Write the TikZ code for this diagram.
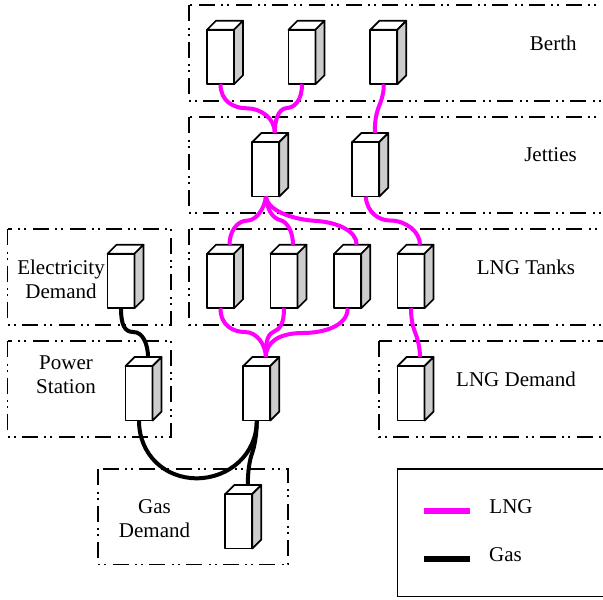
\documentclass[tikz,border=0pt]{standalone}
\usepackage{fontspec}
\setmainfont{Liberation Serif}
\usepackage{tikz}
\usetikzlibrary{calc}
\tikzset{
  frame/.style={line width=1.6pt,dash pattern=on 16pt off 6.5pt on 2pt off 4pt on 2pt off 6.2pt},
  unit/.style={draw,fill=white,line width=1.7pt,rectangle,inner sep=0pt,outer sep=0pt,minimum width=27pt,minimum height=54.5pt,line join=round},
  facetop/.style={draw,fill=white,line width=1.7pt,line join=round},
  faceside/.style={draw,fill=black!20,line width=1.7pt,line join=round},
  lng/.style={line width=4pt,draw={rgb,255:red,255;green,0;blue,255}},
  gas/.style={line width=4pt,draw=black},
  label/.style={font=\fontsize{21}{24}\selectfont,align=center,inner sep=0pt},
}
\newcommand{\unitbox}[3]{
  \node[unit] (#1) at (#2,#3) {};
  \path[facetop] (#1.north west) -- ++(9,-9) -- ++(27,0) -- (#1.north east) -- cycle;
  \path[faceside] (#1.north east) -- ++(9,-9) -- ++(0,54.5) -- (#1.south east) -- cycle;
  \coordinate (#1in) at ($(#1.north)+(9,-9)$);
}
\begin{document}
\begin{tikzpicture}[x=1pt,y=-1pt]
\useasboundingbox (0,0) rectangle (603,600);
\clip (0,0) rectangle (603,600);
\draw[frame] (189,5) rectangle (620,100.7);
\draw[frame] (189,117) rectangle (620,212.7);
\draw[frame] (189,229) rectangle (620,325);
\draw[frame] (379,341) rectangle (620,437);
\draw[frame] (7.5,229) rectangle (171,324.7);
\draw[frame] (7.5,341) rectangle (171,436.7);
\draw[frame] (98,469) rectangle (288,564.5);
\draw[line width=1.6pt] (397.5,468.7) rectangle (620,596.3);

\foreach \name/\x/\y in {b1/220.5/57,b2/302/57,b3/383.8/57,
    j1/265.8/169.3,j2/365.8/169.3,
    t1/220.5/281,t2/284/281,t3/347.7/281,t4/411/281,
    m/256.8/393.3,ld/411/393.3,e/121/281,p/139/393.3,g/238.8/521.3}{
  \unitbox{\name}{\x}{\y}
}

\node[label] (berth) at (553.3,43) {Berth};
\node[label] (jetties) at (550.5,155) {Jetties};
\node[label] (tanks) at (526,267) {LNG Tanks};
\node[label] (lngdem) at (516,379) {LNG Demand};
\node[label] (elec) at (61,279) {Electricity\\Demand};
\node[label] (power) at (66,375) {Power\\Station};
\node[label] (gasdem) at (154.5,519) {Gas\\Demand};
\node[label] (lnglab) at (511,507) {LNG};
\node[label] (gaslab) at (505.5,555) {Gas};

\draw[lng] (b1.south) .. controls +(0,17) and +(-13,0) .. (246.7,108.3) .. controls +(14,0) and +(0,-15) .. (j1in);
\draw[lng] (b2.south) .. controls +(0,17) and +(7,0) .. (286.7,108) .. controls +(-9,1) and +(0,-12) .. (j1in);
\draw[lng] (b3.south) .. controls +(0,12) and +(2,-6) .. (378,109) .. controls +(-2,6) and +(0,-12) .. (j2in);
\draw[lng] (j1.south) .. controls +(-1,13) and +(7,0) .. (248,220.5) .. controls +(-12,0) and +(0,-12) .. (t1in);
\draw[lng] (j1.south) .. controls +(1,12) and +(-8,-2) .. (280,220) .. controls +(8,2) and +(0,-12) .. (t2in);
\draw[lng] (j1.south) .. controls +(2,14) and +(-22,-2) .. (313,220.7) .. controls +(24,1) and +(0,-14) .. (t3in);
\draw[lng] (j2.south) .. controls +(1,16) and +(-11,0) .. (390,220.5) .. controls +(16,0) and +(0,-13) .. (t4in);
\draw[lng] (t1.south) .. controls +(0,18) and +(-11,0) .. (245,332) .. controls +(12,0) and +(0,-12) .. (min);
\draw[lng] (t2.south) .. controls +(0,17) and +(6,-3) .. (273.3,332) .. controls +(-7,3) and +(0,-12) .. (min);
\draw[lng] (t3.south) .. controls +(0,18) and +(20,0) .. (303,333) .. controls +(-24,0) and +(0,-15) .. (min);
\draw[lng] (t4.south) .. controls +(0,12) and +(-2,-5) .. (415.3,333) .. controls +(2,5) and +(0,-10) .. (ldin);
\draw[gas] (e.south) .. controls +(0,16) and +(-9,0) .. (133.3,332) .. controls +(10,0) and +(0,-12) .. (pin);
\draw[gas] (p.south) .. controls +(0,34) and +(-32,0) .. (196.7,478.3) .. controls +(32,0) and +(0,34) .. (m.south);
\draw[gas] (m.south) .. controls +(0,14) and +(2,-6) .. (252.5,452) .. controls +(-3,8) and +(0,-14) .. (gin);

\coordinate (lnga) at (424,511);
\coordinate (lngb) at (470,511);
\coordinate (gasa) at (424,559);
\coordinate (gasb) at (470,559);
\draw[lng,line width=6pt] (lnga) -- (lngb);
\draw[gas,line width=6pt] (gasa) -- (gasb);
\end{tikzpicture}
\end{document}
